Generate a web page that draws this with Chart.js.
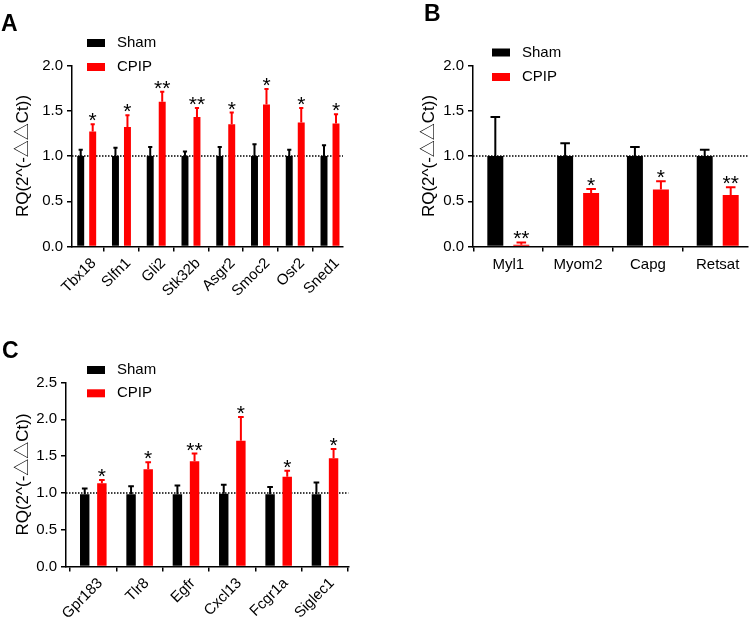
<!DOCTYPE html>
<html>
<head>
<meta charset="utf-8">
<script src="https://cdn.jsdelivr.net/npm/chart.js@4.4.1/dist/chart.umd.min.js"></script>
<style>
	html, body { margin: 0; padding: 0; background: #fff; }
	#page { position: relative; width: 750px; height: 625px; overflow: hidden; }
	#page canvas { position: absolute; }
	.panel-letter {
		position: absolute;
		font: bold 23px 'Liberation Sans', Arial, sans-serif;
		line-height: 23px;
		color: #000;
	}
</style>
</head>
<body>
<div id="page">
	<canvas id="chart-a" width="365" height="310" style="left:0;top:0"></canvas>
	<canvas id="chart-b" width="375" height="310" style="left:375px;top:0"></canvas>
	<canvas id="chart-c" width="365" height="315" style="left:0;top:310px"></canvas>
	<div class="panel-letter" style="left:1px;top:12px">A</div>
	<div class="panel-letter" style="left:424px;top:2px">B</div>
	<div class="panel-letter" style="left:2px;top:339px">C</div>
</div>
<script>
// panel A
const genesA = ['Tbx18', 'Slfn1', 'Gli2', 'Stk32b', 'Asgr2', 'Smoc2', 'Osr2', 'Sned1'];
const shamA = [1, 1, 1, 1, 1, 1, 1, 1];
const shamErrA = [0.07, 0.09, 0.10, 0.05, 0.10, 0.13, 0.07, 0.12];
const cpipA = [1.27, 1.32, 1.60, 1.43, 1.35, 1.57, 1.37, 1.36];
const cpipErrA = [0.08, 0.13, 0.11, 0.10, 0.13, 0.17, 0.16, 0.10];
const starsA = ['*', '*', '**', '**', '*', '*', '*', '*'];

// panel B
const genesB = ['Myl1', 'Myom2', 'Capg', 'Retsat'];
const shamB = [1, 1, 1, 1];
const shamErrB = [0.43, 0.14, 0.10, 0.07];
const cpipB = [0.02, 0.59, 0.63, 0.57];
const cpipErrB = [0.025, 0.045, 0.09, 0.085];
const starsB = ['**', '*', '*', '**'];

// panel C
const genesC = ['Gpr183', 'Tlr8', 'Egfr', 'Cxcl13', 'Fcgr1a', 'Siglec1'];
const shamC = [0.98, 0.98, 0.98, 0.99, 0.98, 0.98];
const shamErrC = [0.08, 0.11, 0.12, 0.12, 0.10, 0.16];
const cpipC = [1.13, 1.32, 1.43, 1.71, 1.22, 1.47];
const cpipErrC = [0.045, 0.095, 0.105, 0.32, 0.08, 0.125];
const starsC = ['*', '*', '**', '*', '*', '*'];

const yTitle = 'RQ(2^(-△△Ct))';
const fontFamily = "'Liberation Sans', Arial, sans-serif";

Chart.defaults.font.family = fontFamily;
Chart.defaults.font.size = 15;
Chart.defaults.color = '#000';

// dotted reference line at 1.0
const refLine = {
	id: 'refLine',
	beforeDatasetsDraw(chart) {
		const { ctx, chartArea, scales } = chart;
		const y = scales.y.getPixelForValue(1);
		ctx.save();
		ctx.strokeStyle = '#000';
		ctx.lineWidth = 1.5;
		ctx.setLineDash([1.5, 1.5]);
		ctx.beginPath();
		ctx.moveTo(chartArea.left, y);
		ctx.lineTo(chartArea.right, y);
		ctx.stroke();
		ctx.restore();
	},
};

// one sided error bars (+SEM) and significance stars
const errorBars = {
	id: 'errorBars',
	afterDatasetsDraw(chart) {
		const { ctx } = chart;
		const yScale = chart.scales.y;

		chart.data.datasets.forEach((ds, i) => {
			const meta = chart.getDatasetMeta(i);

			meta.data.forEach((bar, j) => {
				const top = yScale.getPixelForValue(ds.data[j].y + ds.errors[j]);
				const cap = bar.width * 0.6;

				ctx.save();
				ctx.strokeStyle = ds.backgroundColor;
				ctx.lineWidth = 2;
				ctx.beginPath();
				ctx.moveTo(bar.x, bar.y);
				ctx.lineTo(bar.x, top);
				ctx.moveTo(bar.x - cap / 2, top);
				ctx.lineTo(bar.x + cap / 2, top);
				ctx.stroke();

				if (ds.stars) {
					ctx.fillStyle = '#000';
					ctx.font = `21px ${fontFamily}`;
					ctx.textAlign = 'center';
					ctx.textBaseline = 'alphabetic';
					ctx.fillText(ds.stars[j], bar.x, top + 3);
				}
				ctx.restore();
			});
		});
	},
};

// legend boxes inside the plot
const boxLegend = {
	id: 'boxLegend',
	afterDraw(chart, args, opts) {
		const { ctx } = chart;

		chart.data.datasets.forEach((ds, i) => {
			const cy = opts.y + i * opts.gap;
			ctx.save();
			ctx.fillStyle = ds.backgroundColor;
			ctx.fillRect(opts.x, cy - 4, 18, 8);
			ctx.fillStyle = '#000';
			ctx.font = `15px ${fontFamily}`;
			ctx.textAlign = 'left';
			ctx.textBaseline = 'middle';
			ctx.fillText(ds.label, opts.x + 30, cy);
			ctx.restore();
		});
	},
};

const toPoints = (values) => values.map((v, i) => ({ x: i, y: v }));

function makePanel(id, p) {
	return new Chart(document.getElementById(id), {
		type: 'bar',
		data: {
			datasets: [
				{
					label: 'Sham',
					data: toPoints(p.sham),
					errors: p.shamErr,
					backgroundColor: '#000000',
					borderWidth: 0,
					categoryPercentage: p.cat,
					barPercentage: p.bar,
				},
				{
					label: 'CPIP',
					data: toPoints(p.cpip),
					errors: p.cpipErr,
					stars: p.stars,
					backgroundColor: '#ff0000',
					borderWidth: 0,
					categoryPercentage: p.cat,
					barPercentage: p.bar,
				},
			],
		},
		options: {
			responsive: false,
			animation: false,
			layout: { padding: p.pad },
			plugins: {
				legend: { display: false },
				tooltip: { enabled: false },
				boxLegend: p.legend,
			},
			scales: {
				x: {
					type: 'linear',
					min: p.xMin,
					max: p.xMax,
					offset: false,
					border: { color: '#000', width: 1.5 },
					grid: { drawOnChartArea: false, color: '#000', lineWidth: 1.5, tickLength: 5 },
					ticks: {
						stepSize: 1,
						includeBounds: false,
						autoSkip: false,
						minRotation: p.rot,
						maxRotation: p.rot,
						padding: p.xPad,
						labelOffset: p.labelOffset,
						callback: (v) => p.genes[v],
					},
					afterFit(scale) {
						scale.height = p.xHeight;
					},
				},
				y: {
					min: 0,
					max: p.yMax,
					border: { color: '#000', width: 1.5 },
					grid: { drawOnChartArea: false, color: '#000', lineWidth: 1.5, tickLength: 5 },
					ticks: {
						stepSize: 0.5,
						padding: 4,
						callback: (v) => v.toFixed(1),
					},
					title: {
						display: true,
						text: yTitle,
						font: { size: 17, family: "'Liberation Sans', 'Noto Sans CJK SC', sans-serif" },
						padding: { top: p.titlePad, bottom: 0 },
					},
					afterFit(scale) {
						scale.width = p.yWidth;
					},
				},
			},
		},
		plugins: [refLine, errorBars, boxLegend],
	});
}

makePanel('chart-a', {
	genes: genesA, sham: shamA, shamErr: shamErrA, cpip: cpipA, cpipErr: cpipErrA, stars: starsA,
	cat: 0.69, bar: 0.58,
	pad: { left: 0, top: 65.5, right: 22, bottom: 0 },
	xMin: -0.423, xMax: 7.374, rot: 45, xPad: 3, labelOffset: 7, xHeight: 63.5,
	yMax: 2, yWidth: 72, titlePad: 13,
	legend: { x: 87, y: 43, gap: 24 },
});

makePanel('chart-b', {
	genes: genesB, sham: shamB, shamErr: shamErrB, cpip: cpipB, cpipErr: cpipErrB, stars: starsB,
	cat: 0.745, bar: 0.615,
	pad: { left: 26, top: 65.5, right: 2, bottom: 0 },
	xMin: -0.506, xMax: 3.434, rot: 0, xPad: 4, labelOffset: 0, xHeight: 63.5,
	yMax: 2, yWidth: 72, titlePad: 18,
	legend: { x: 117, y: 52.5, gap: 24.5 },
});

makePanel('chart-c', {
	genes: genesC, sham: shamC, shamErr: shamErrC, cpip: cpipC, cpipErr: cpipErrC, stars: starsC,
	cat: 0.74, bar: 0.55,
	pad: { left: 0, top: 72.5, right: 16.7, bottom: 0 },
	xMin: -0.589, xMax: 5.503, rot: 45, xPad: 3, labelOffset: 7, xHeight: 58.5,
	yMax: 2.5, yWidth: 66, titlePad: 13,
	legend: { x: 87, y: 60, gap: 23.3 },
});
</script>
</body>
</html>
